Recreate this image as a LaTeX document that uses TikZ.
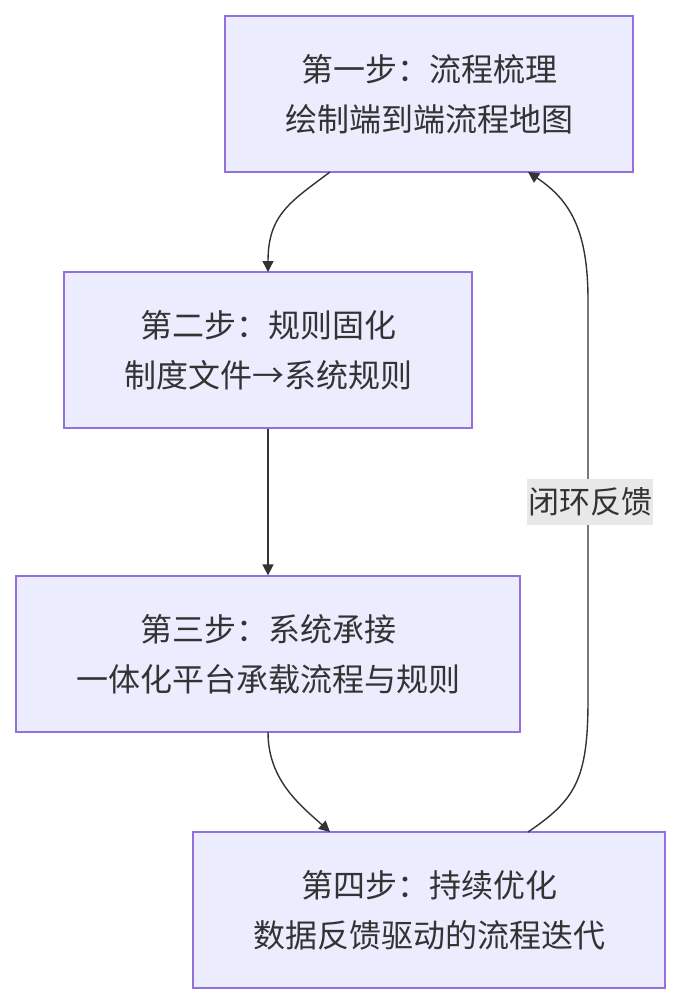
\documentclass[tikz,border=0pt]{standalone}
\usepackage{fontspec}
\setmainfont{Noto Sans CJK SC}
\usetikzlibrary{arrows.meta}
\definecolor{boxfill}{HTML}{ECECFF}
\definecolor{boxline}{HTML}{9370DB}
\definecolor{ink}{HTML}{333333}
\begin{document}
\begin{tikzpicture}[x=1pt,y=-1pt,
  box/.style={draw=boxline,fill=boxfill,line width=1.3pt,minimum height=156pt,align=center,font=\fontsize{32}{50}\selectfont,text=ink,inner sep=0pt},
  edge/.style={draw=ink,line width=1.4pt,-{Triangle[length=11pt,width=11pt]}}]
\useasboundingbox (0,0) rectangle (681,1004);
\node[box,minimum width=408pt] (a) at (429,94) {第一步：流程梳理\\绘制端到端流程地图};
\node[box,minimum width=408pt] (b) at (268,350) {第二步：规则固化\\制度文件→系统规则};
\node[box,minimum width=504pt] (c) at (268,654) {第三步：系统承接\\一体化平台承载流程与规则};
\node[box,minimum width=472pt] (d) at (429,910) {第四步：持续优化\\数据反馈驱动的流程迭代};
\coordinate (a1) at (330,172);
\coordinate (b1) at (268,272);
\draw[edge] (a1) .. controls (290,202) and (268,215) .. (b1);
\draw[edge] (b.south) -- (c.north);
\coordinate (c1) at (268,732);
\coordinate (d1) at (330,832);
\draw[edge] (c1) .. controls (268,780) and (300,805) .. (d1);
\coordinate (d2) at (528,832);
\coordinate (a2) at (528,172);
\draw[edge] (d2) .. controls (575,800) and (588,780) .. (588,700) -- (588,300) .. controls (588,230) and (570,200) .. (a2);
\node[fill=black!9,text=ink,font=\fontsize{31}{36}\selectfont,inner sep=1pt,minimum height=46pt] (l) at (590,502) {闭环反馈};
\end{tikzpicture}
\end{document}
